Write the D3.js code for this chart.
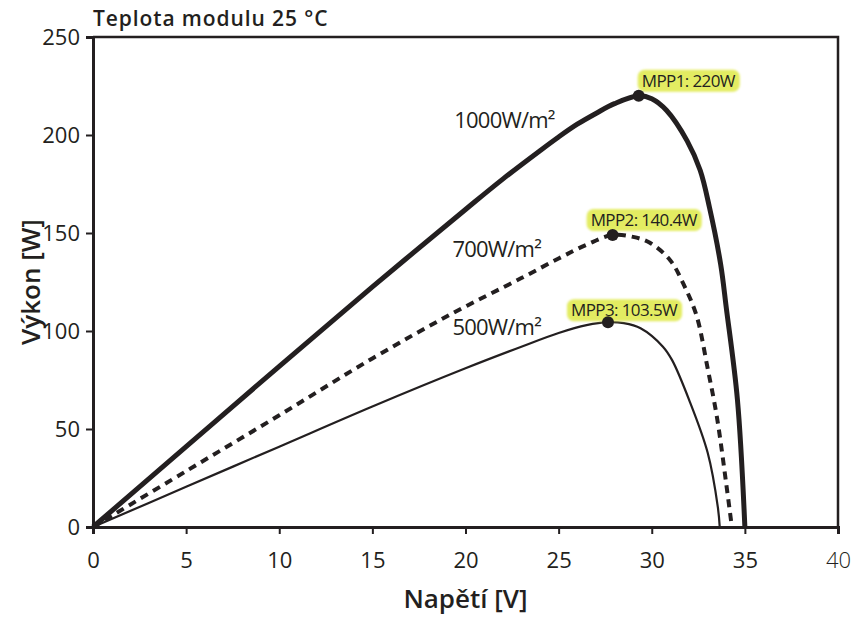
<!DOCTYPE html>
<html>
<head>
<meta charset="utf-8">
<script src="https://cdn.jsdelivr.net/npm/d3@7"></script>
<style>
  body { margin: 0; background: #fff; }
  svg { display: block; }
  text { font-family: "Open Sans", sans-serif; fill: #231f20; }
</style>
</head>
<body>
<svg id="chart" width="856" height="622"></svg>
<script>
// ticks
const xTicks = [0, 5, 10, 15, 20, 25, 30, 35, 40];
const yTicks = [0, 50, 100, 150, 200, 250];

// 1000 W/m2 curve
const volt1000 = [0, 5, 10, 15, 20, 22, 24, 25, 26, 27, 28, 29.3, 30, 30.8, 31.9, 32.6, 33.1, 33.7, 34.0, 34.6, 35.0];
const power1000 = [0, 41, 82, 122.5, 162, 177.5, 192, 199, 205.5, 211, 216, 220, 218.5, 212.5, 197, 182, 163, 134, 112, 65, 0];

// 700 W/m2 curve
const volt700 = [0, 5, 10, 15, 19.3, 23, 25, 26.5, 27.9, 29, 29.9, 31, 31.7, 32.4, 33, 33.5, 34, 34.3];
const power700 = [0, 28.5, 57, 86, 109, 127, 137, 144, 149, 148, 145, 136, 124, 108, 81, 56, 22, 0];

// 500 W/m2 curve
const volt500 = [0, 5, 10, 15, 20, 23, 25, 26.5, 27.65, 28.5, 29.4, 30.6, 31.1, 32, 33, 33.55, 33.65];
const power500 = [0, 20.5, 41, 61.5, 81, 92, 99, 103, 104.5, 104, 101.4, 92, 85, 65, 38, 10, 0];

// maximum power points
const mppVolt = [29.3, 27.9, 27.65];
const mppPower = [220, 149, 104.5];
const mppLabels = ["MPP1: 220W", "MPP2: 140.4W", "MPP3: 103.5W"];

// irradiance labels
const irrLabels = ["1000W/m²", "700W/m²", "500W/m²"];
const irrVolt = [19.4, 19.3, 19.3];
const irrPower = [203.5, 138, 98];

const ink = "#231f20";

let svg = d3.select("#chart");

let margin = { top: 37, right: 18, bottom: 95, left: 93 };
let width = 856 - margin.left - margin.right;
let height = 622 - margin.top - margin.bottom;

let xScale = d3.scaleLinear().domain([0, 40]).range([0, width]);
let yScale = d3.scaleLinear().domain([0, 250]).range([height, 0]);

let g = svg.append("g")
    .attr("transform", "translate(" + margin.left + "," + margin.top + ")");

// frame top/right
g.append("path")
    .attr("d", "M0,0H" + width + "V" + height)
    .attr("fill", "none")
    .attr("stroke", ink)
    .attr("stroke-width", 2.5);

let xAxis = g.append("g")
    .attr("transform", "translate(0," + height + ")")
    .call(d3.axisBottom(xScale).tickValues(xTicks).tickSize(7).tickPadding(18));

let yAxis = g.append("g")
    .call(d3.axisLeft(yScale).tickValues(yTicks).tickSize(7).tickPadding(6));

[xAxis, yAxis].forEach(a => {
    a.select(".domain").attr("stroke", ink).attr("stroke-width", 3);
    a.selectAll(".tick line").attr("stroke", ink).attr("stroke-width", 2);
    a.selectAll(".tick text")
        .attr("font-size", 22)
        .attr("font-family", "'Open Sans', sans-serif")
        .attr("fill", ink);
});
xAxis.selectAll(".tick text").attr("dy", "0.71em");
xAxis.selectAll(".tick text").filter(d => d === 40).attr("font-weight", 300);

// curves
let line = d3.line()
    .x(d => xScale(d[0]))
    .y(d => yScale(d[1]))
    .curve(d3.curveCatmullRom.alpha(0.5));

let curves = [
    { v: volt1000, p: power1000, w: 5, dash: null },
    { v: volt700, p: power700, w: 4, dash: "8,6" },
    { v: volt500, p: power500, w: 2.2, dash: null }
];

curves.forEach(c => {
    g.append("path")
        .datum(d3.zip(c.v, c.p))
        .attr("d", line)
        .attr("fill", "none")
        .attr("stroke", ink)
        .attr("stroke-width", c.w)
        .attr("stroke-dasharray", c.dash)
        .attr("stroke-linejoin", "round");
});

// irradiance labels
irrLabels.forEach((t, i) => {
    g.append("text")
        .attr("x", xScale(irrVolt[i]))
        .attr("y", yScale(irrPower[i]))
        .attr("font-size", 22)
        .attr("letter-spacing", -0.8)
        .text(t);
});

// MPP labels with highlight
let blur = svg.append("defs").append("filter").attr("id", "soft");
blur.append("feGaussianBlur").attr("stdDeviation", 0.8);

let labelDx = [3, -22, -37];
let labelDy = [-9, -9, -6];

mppLabels.forEach((t, i) => {
    let lg = g.append("g");
    let txt = lg.append("text")
        .attr("x", xScale(mppVolt[i]) + labelDx[i])
        .attr("y", yScale(mppPower[i]) + labelDy[i])
        .attr("font-size", 17)
        .attr("letter-spacing", -0.6)
        .text(t);
    let bb = txt.node().getBBox();
    lg.insert("rect", "text")
        .attr("x", bb.x - 4)
        .attr("y", bb.y + 1)
        .attr("width", bb.width + 8)
        .attr("height", bb.height - 1)
        .attr("rx", 7)
        .attr("fill", "#e3ec62")
        .attr("filter", "url(#soft)");
});

g.selectAll(".mpp")
    .data(d3.zip(mppVolt, mppPower))
    .join("circle")
    .attr("class", "mpp")
    .attr("cx", d => xScale(d[0]))
    .attr("cy", d => yScale(d[1]))
    .attr("r", 6)
    .attr("fill", ink);

// titles
svg.append("text")
    .attr("x", 93)
    .attr("y", 26)
    .attr("font-size", 21)
    .attr("font-weight", 600)
    .attr("letter-spacing", 0.9)
    .text("Teplota modulu 25 °C");

svg.append("text")
    .attr("x", margin.left + xScale(20))
    .attr("y", 608)
    .attr("text-anchor", "middle")
    .attr("font-size", 26)
    .attr("font-weight", 600)
    .text("Napětí [V]");

svg.append("text")
    .attr("transform", "translate(40," + (margin.top + yScale(125)) + ") rotate(-90)")
    .attr("text-anchor", "middle")
    .attr("font-size", 26)
    .attr("font-weight", 600)
    .text("Výkon [W]");
</script>
</body>
</html>
